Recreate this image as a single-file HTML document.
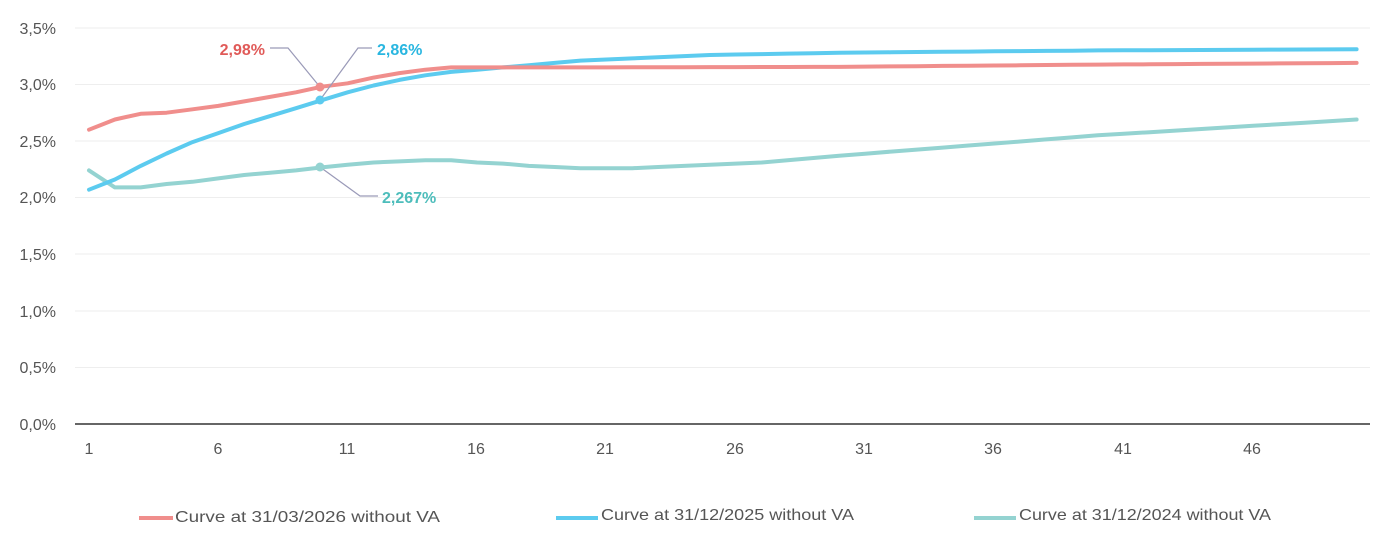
<!DOCTYPE html>
<html><head><meta charset="utf-8"><style>
html,body{margin:0;padding:0;background:#fff;width:1394px;height:544px;overflow:hidden}
svg{display:block;font-family:"Liberation Sans",sans-serif}
</style></head><body>
<svg id="c" width="1394" height="544" viewBox="0 0 1394 544">
<g stroke="#eeeeee" stroke-width="1">
<line x1="75" x2="1370" y1="28" y2="28"/><line x1="75" x2="1370" y1="84.5" y2="84.5"/>
<line x1="75" x2="1370" y1="141" y2="141"/><line x1="75" x2="1370" y1="197.5" y2="197.5"/>
<line x1="75" x2="1370" y1="254" y2="254"/><line x1="75" x2="1370" y1="311" y2="311"/>
<line x1="75" x2="1370" y1="367.5" y2="367.5"/>
</g>
<line x1="75" x2="1370" y1="424" y2="424" stroke="#333" stroke-width="1.5"/>
<g fill="#555" font-size="16" text-anchor="end">
<text x="56" y="34">3,5%</text><text x="56" y="90">3,0%</text><text x="56" y="147">2,5%</text>
<text x="56" y="203">2,0%</text><text x="56" y="260">1,5%</text><text x="56" y="317">1,0%</text>
<text x="56" y="373">0,5%</text><text x="56" y="430">0,0%</text>
</g>
<g fill="#555" font-size="16" text-anchor="middle">
<text x="89" y="454">1</text><text x="218" y="454">6</text><text x="347" y="454">11</text>
<text x="476" y="454">16</text><text x="605" y="454">21</text><text x="735" y="454">26</text>
<text x="864" y="454">31</text><text x="993" y="454">36</text><text x="1123" y="454">41</text>
<text x="1252" y="454">46</text>
</g>
<path id="pt" fill="none" stroke="#94d3d1" stroke-width="4" stroke-linejoin="round" stroke-linecap="round"/>
<path id="pb" fill="none" stroke="#5ccbef" stroke-width="4" stroke-linejoin="round" stroke-linecap="round"/>
<path id="pr" fill="none" stroke="#f08e8c" stroke-width="4" stroke-linejoin="round" stroke-linecap="round"/>
<g fill="none" stroke="#9a9ab8" stroke-width="1.2">
<polyline points="270,48 288,48 320,87"/>
<polyline points="372,48 358,48 320,100"/>
<polyline points="320,167 360,196 378,196"/>
</g>
<circle cx="320" cy="87" r="4.5" fill="#f08e8c"/>
<circle cx="320" cy="100" r="4.5" fill="#5ccbef"/>
<circle cx="320" cy="167" r="4.5" fill="#94d3d1"/>
<g font-size="16" font-weight="bold">
<text x="265" y="55" text-anchor="end" fill="#e05a58">2,98%</text>
<text x="377" y="55" fill="#29b6e0">2,86%</text>
<text x="382" y="203" fill="#4dbdbb">2,267%</text>
</g>
<g font-size="16" fill="#555">
<rect x="139" y="516" width="34" height="4" fill="#f08e8c"/>
<text x="175" y="522" textLength="265" lengthAdjust="spacingAndGlyphs">Curve at 31/03/2026 without VA</text>
<rect x="556" y="516" width="42" height="4" fill="#5ccbef"/>
<text x="601" y="520" textLength="253" lengthAdjust="spacingAndGlyphs">Curve at 31/12/2025 without VA</text>
<rect x="974" y="516" width="42" height="4" fill="#94d3d1"/>
<text x="1019" y="520" textLength="252" lengthAdjust="spacingAndGlyphs">Curve at 31/12/2024 without VA</text>
</g>
</svg>
<script>
function X(n){return 89+(n-1)*25.87}
function Y(v){return 424-v*113.2}
function interp(pts){var out=[];for(var n=1;n<=50;n++){for(var i=0;i<pts.length-1;i++){var a=pts[i],b=pts[i+1];if(n>=a[0]&&n<=b[0]){var t=(n-a[0])/(b[0]-a[0]||1);out.push([n,a[1]+(b[1]-a[1])*t]);break;}}}return out}
function path(pts){return interp(pts).map(function(p,i){return (i?'L':'M')+X(p[0]).toFixed(1)+','+Y(p[1]).toFixed(1)}).join('')}
var red=[[1,2.60],[2,2.69],[3,2.74],[4,2.75],[5,2.78],[6,2.81],[7,2.85],[8,2.89],[9,2.93],[10,2.98],[11,3.01],[12,3.06],[13,3.10],[14,3.13],[15,3.15],[20,3.15],[30,3.155],[40,3.175],[50,3.19]];
var blue=[[1,2.07],[2,2.16],[3,2.28],[4,2.39],[5,2.49],[6,2.57],[7,2.65],[8,2.72],[9,2.79],[10,2.86],[11,2.93],[12,2.99],[13,3.04],[14,3.08],[15,3.11],[16,3.13],[17,3.15],[18,3.17],[19,3.19],[20,3.21],[22,3.23],[25,3.26],[30,3.28],[40,3.30],[50,3.31]];
var teal=[[1,2.24],[2,2.09],[3,2.09],[4,2.12],[5,2.14],[6,2.17],[7,2.20],[8,2.22],[9,2.24],[10,2.267],[11,2.29],[12,2.31],[13,2.32],[14,2.33],[15,2.33],[16,2.31],[17,2.30],[18,2.28],[19,2.27],[20,2.26],[22,2.26],[23,2.27],[25,2.29],[27,2.31],[30,2.37],[35,2.46],[40,2.55],[45,2.62],[50,2.69]];
document.getElementById('pr').setAttribute('d',path(red));
document.getElementById('pb').setAttribute('d',path(blue));
document.getElementById('pt').setAttribute('d',path(teal));
</script>
</body></html>
